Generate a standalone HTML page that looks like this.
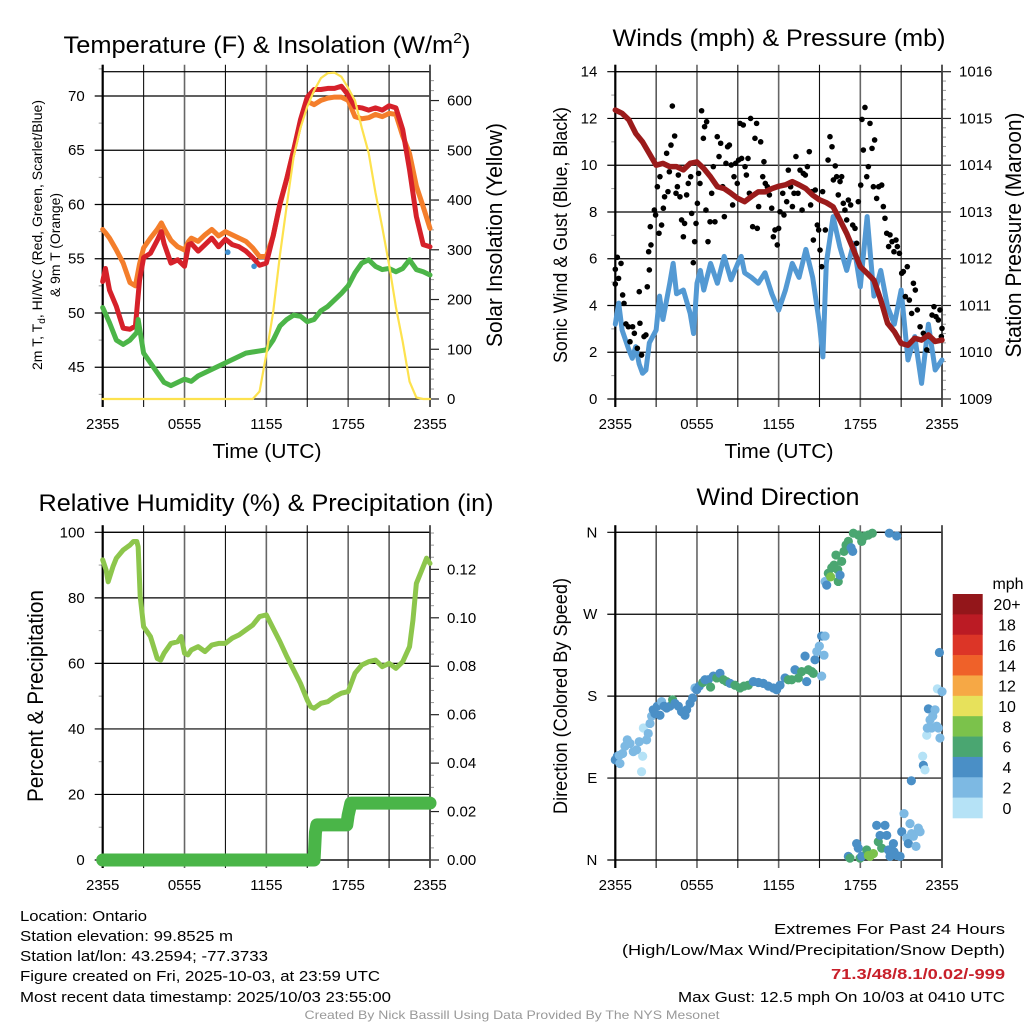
<!DOCTYPE html>
<html><head><meta charset="utf-8"><style>
html,body{margin:0;padding:0;background:#fff;}
svg{display:block;font-family:"Liberation Sans",Arial,sans-serif;}
</style></head><body>
<svg id="chart" width="1024" height="1024" viewBox="0 0 1024 1024" xmlns="http://www.w3.org/2000/svg">
<rect x="0" y="0" width="1024" height="1024" fill="#fff"/>
<g id="layer"></g>
<!-- titles -->
<text x="267" y="53" font-size="24" text-anchor="middle" textLength="407" lengthAdjust="spacingAndGlyphs">Temperature (F) &amp; Insolation (W/m<tspan font-size="15" dy="-10">2</tspan><tspan dy="10">)</tspan></text>
<text x="779" y="46" font-size="24" text-anchor="middle" textLength="333" lengthAdjust="spacingAndGlyphs">Winds (mph) &amp; Pressure (mb)</text>
<text x="266" y="511" font-size="24" text-anchor="middle" textLength="455" lengthAdjust="spacingAndGlyphs">Relative Humidity (%) &amp; Precipitation (in)</text>
<text x="778" y="505" font-size="24" text-anchor="middle" textLength="163" lengthAdjust="spacingAndGlyphs">Wind Direction</text>
<!-- axis titles -->
<text x="267" y="458" font-size="20" text-anchor="middle" textLength="109" lengthAdjust="spacingAndGlyphs">Time (UTC)</text>
<text x="779" y="458" font-size="20" text-anchor="middle" textLength="109" lengthAdjust="spacingAndGlyphs">Time (UTC)</text>
<text x="42" y="235" font-size="14" text-anchor="middle" transform="rotate(-90 42 235)" textLength="270" lengthAdjust="spacingAndGlyphs">2m T, T<tspan font-size="10" dy="3">d</tspan><tspan dy="-3">, HI/WC (Red, Green, Scarlet/Blue)</tspan></text>
<text x="60" y="245" font-size="14" text-anchor="middle" transform="rotate(-90 60 245)" textLength="104" lengthAdjust="spacingAndGlyphs">&amp; 9m T (Orange)</text>
<text x="502" y="235" font-size="22" text-anchor="middle" transform="rotate(-90 502 235)" textLength="224" lengthAdjust="spacingAndGlyphs">Solar Insolation (Yellow)</text>
<text x="567" y="235" font-size="19" text-anchor="middle" transform="rotate(-90 567 235)" textLength="256" lengthAdjust="spacingAndGlyphs">Sonic Wind &amp; Gust (Blue, Black)</text>
<text x="1021" y="235" font-size="22" text-anchor="middle" transform="rotate(-90 1021 235)" textLength="245" lengthAdjust="spacingAndGlyphs">Station Pressure (Maroon)</text>
<text x="43" y="696" font-size="22" text-anchor="middle" transform="rotate(-90 43 696)" textLength="212" lengthAdjust="spacingAndGlyphs">Percent &amp; Precipitation</text>
<text x="567" y="696" font-size="19" text-anchor="middle" transform="rotate(-90 567 696)" textLength="236" lengthAdjust="spacingAndGlyphs">Direction (Colored By Speed)</text>
<text x="1008" y="589" font-size="16" text-anchor="middle">mph</text>
<!-- footer -->
<g font-size="15">
<text x="20" y="921" textLength="127" lengthAdjust="spacingAndGlyphs">Location: Ontario</text>
<text x="20" y="941" textLength="213" lengthAdjust="spacingAndGlyphs">Station elevation: 99.8525 m</text>
<text x="20" y="961" textLength="248" lengthAdjust="spacingAndGlyphs">Station lat/lon: 43.2594; -77.3733</text>
<text x="20" y="981" textLength="360" lengthAdjust="spacingAndGlyphs">Figure created on Fri, 2025-10-03, at 23:59 UTC</text>
<text x="20" y="1002" textLength="371" lengthAdjust="spacingAndGlyphs">Most recent data timestamp: 2025/10/03 23:55:00</text>
<text x="1005" y="934" text-anchor="end" textLength="231" lengthAdjust="spacingAndGlyphs">Extremes For Past 24 Hours</text>
<text x="1005" y="955" text-anchor="end" textLength="383" lengthAdjust="spacingAndGlyphs">(High/Low/Max Wind/Precipitation/Snow Depth)</text>
<text x="1005" y="979" text-anchor="end" font-weight="bold" fill="#c8202a" textLength="174" lengthAdjust="spacingAndGlyphs">71.3/48/8.1/0.02/-999</text>
<text x="1005" y="1002" text-anchor="end" textLength="327" lengthAdjust="spacingAndGlyphs">Max Gust: 12.5 mph On 10/03 at 0410 UTC</text>
</g>
<text x="512" y="1019" font-size="12" fill="#999" text-anchor="middle" textLength="415" lengthAdjust="spacingAndGlyphs">Created By Nick Bassill Using Data Provided By The NYS Mesonet</text>
</svg>
<script>
// ---------- DATA ----------
const hoursHalf = [0,0.5,1,1.5,2,2.5,3,3.5,4,4.5,5,5.5,6,6.5,7,7.5,8,8.5,9,9.5,10,10.5,11,11.5,12,12.5,13,13.5,14,14.5,15,15.5,16,16.5,17,17.5,18,18.5,19,19.5,20,20.5,21,21.5,22,22.5,23,23.5,24];
const tempT = [0,0.2,0.5,1,1.5,2,2.4,2.7,3,3.5,4,4.3,4.5,5,5.5,6,6.3,6.5,7,7.5,8,8.5,9,9.5,10,10.5,11,11.5,12,12.5,13,13.5,14,14.5,15,15.5,16,16.5,17,17.5,18,18.5,19,19.5,20,20.5,21,21.5,22,22.5,23,23.5,24];
const temp2m = [52.9,54.1,52.1,50.6,48.6,48.5,48.8,53.0,55.1,55.5,56.7,57.5,56.4,54.6,54.9,54.3,56.3,56.4,55.7,56.3,56.9,56.1,56.8,56.3,56.1,55.7,55.1,54.4,54.6,57.1,60.1,62.4,65.0,67.8,69.9,70.6,70.6,70.7,70.7,70.9,70.1,69.0,68.9,68.7,68.9,68.7,69.1,68.9,66.9,63.2,58.9,56.3,56.1];
const temp9m = [57.7,57.4,56.9,55.8,54.6,52.8,52.5,54.5,56.0,56.9,57.7,58.3,57.8,56.7,56.1,55.8,56.6,56.9,56.6,57.2,57.7,57.1,57.5,57.2,56.9,56.6,56.0,55.2,55.2,57.1,60.0,62.4,65.0,67.6,69.5,69.2,69.6,69.8,69.9,69.9,69.6,68.1,67.9,68.0,68.3,68.1,68.4,68.3,66.3,64.7,61.7,59.8,57.8];
const dewT = [0,0.5,1,1.5,2,2.5,2.6,3,3.5,4,4.5,5,5.5,6,6.5,7,7.5,8,8.5,9,9.5,10,10.5,11,11.5,12,12.5,13,13.5,14,14.5,15,15.5,16,16.5,17,17.5,18,18.5,19,19.5,20,20.5,21,21.5,22,22.5,23,23.5,24];
const dewPoint = [50.5,49.1,47.5,47.1,47.5,48.2,49.4,46.3,45.4,44.5,43.6,43.3,43.6,43.9,43.7,44.2,44.5,44.8,45.1,45.4,45.7,46.0,46.3,46.4,46.5,46.6,47.5,48.8,49.4,49.8,49.7,49.2,49.4,50.2,50.6,51.2,51.8,52.5,53.7,54.6,54.9,54.3,54.0,54.1,53.8,54.1,54.9,54.0,53.8,53.5];
const solar = [0,0,0,0,0,0,0,0,0,0,0,0,0,0,0,0,0,0,0,0,0,0,0,15,90,175,290,390,487,545,588,620,645,655,656,648,625,600,545,495,415,345,270,185,115,35,3,0,0];
const chillT = [9.17,11.1];
const chillV = [55.6,54.3];

const windT = [0,0.25,0.5,1,1.25,1.5,1.75,2,2.25,2.5,3,3.25,3.5,4,4.25,4.5,5,5.5,5.75,6,6.25,6.5,7,7.5,8,8.5,9,9.25,9.5,10,10.5,11,11.5,12,12.5,13,13.5,14,14.5,15,15.25,15.5,16,16.5,17,17.5,18,18.5,19,19.5,20,20.5,21,21.5,22,22.5,23,23.5,24];
const windV = [3.2,4.1,2.95,2.1,1.74,2.24,1.5,1.1,1.24,2.4,2.95,4.4,3.4,4.95,5.8,4.5,4.66,3.66,2.8,4.95,5.5,4.66,5.8,4.95,6.1,5.1,5.8,6.1,5.4,5.2,4.95,5.4,4.5,3.8,4.66,5.8,5.2,6.4,5.2,3.2,1.8,5.8,7.8,6.5,5.5,6.66,4.8,7.8,4.4,5.5,3.95,3.2,4.66,1.67,2.67,0.67,3.2,1.24,1.67];
const pressure = [1015.18,1015.11,1014.97,1014.68,1014.50,1014.25,1014.00,1014.04,1013.97,1013.97,1013.90,1014.04,1014.07,1013.93,1013.75,1013.54,1013.50,1013.40,1013.29,1013.22,1013.33,1013.43,1013.43,1013.50,1013.55,1013.58,1013.65,1013.58,1013.50,1013.36,1013.26,1013.20,1013.11,1012.83,1012.54,1012.19,1011.83,1011.69,1011.54,1011.12,1010.62,1010.44,1010.19,1010.15,1010.30,1010.26,1010.37,1010.23,1010.26];
const gustT = [0,0,0.15,0.24,0.42,0.54,0.64,0.78,0.96,1.08,1.27,1.4,1.62,1.81,1.76,1.93,2.11,2.25,2.35,2.5,2.45,2.62,2.57,2.87,2.96,3.09,3.21,3.28,3.4,3.53,3.62,3.77,3.87,3.97,4.09,4.19,4.36,4.46,4.56,4.63,4.75,4.87,5.0,5.09,5.24,5.36,5.54,5.61,5.73,5.83,5.93,6.03,6.12,6.22,6.34,6.47,6.56,6.71,6.66,6.81,6.96,7.08,7.2,7.32,7.49,7.62,7.74,7.89,8.01,8.13,8.25,8.38,8.52,8.62,8.72,8.84,8.96,9.06,9.16,9.28,9.4,9.53,9.63,9.75,9.85,9.94,10.09,10.26,10.38,10.43,10.53,10.68,10.83,10.92,11.02,11.17,11.32,11.49,11.61,11.73,11.9,12.0,12.1,12.3,12.39,12.59,12.71,12.88,13.01,13.13,13.27,13.42,13.57,13.72,13.81,13.96,14.11,14.25,14.35,14.45,14.55,14.69,14.84,14.94,15.04,15.16,15.23,15.43,15.63,15.77,15.92,16.02,16.16,16.26,16.38,16.51,16.63,16.75,16.87,17.0,17.12,17.29,17.44,17.61,17.73,17.85,18.03,18.12,18.22,18.34,18.47,18.59,18.71,18.86,19.05,18.96,19.2,19.35,19.57,19.69,19.81,19.94,20.08,20.18,20.33,20.47,20.62,20.72,20.87,21.04,21.16,21.31,21.45,21.6,21.77,21.9,22.04,22.19,22.39,22.63,22.88,23.07,23.27,23.41,23.56,23.73,23.85,23.95,24];
const gustV = [4.92,5.55,6.06,5.16,5.8,4.45,4.09,3.21,3.09,2.45,3.09,2.81,2.17,3.24,4.59,1.88,2.67,2.74,4.8,5.52,6.3,6.59,7.37,8.08,7.87,9.08,7.09,9.51,7.44,8.16,8.65,10.51,8.87,9.72,10.86,12.53,11.25,8.8,9.08,9.58,8.65,7.66,6.94,7.51,8.73,9.22,9.51,7.94,5.83,6.73,7.51,8.37,9.65,9.22,12.33,11.15,11.65,11.86,8.08,6.73,7.58,8.8,9.94,7.58,11.22,10.37,10.94,9.08,7.8,10.08,10.79,10.86,10.01,8.3,9.51,10.08,9.22,10.22,11.79,10.29,11.72,9.94,9.58,10.29,8.8,12.0,7.37,11.15,11.79,7.3,8.23,11.0,9.51,10.15,9.22,9.08,8.73,8.16,6.94,7.23,6.59,7.3,8.01,8.8,7.87,8.44,9.79,9.08,8.23,8.8,10.37,8.8,9.79,8.08,9.65,9.58,9.94,10.58,8.3,8.87,6.8,8.94,7.44,7.23,6.37,5.66,8.87,7.23,10.22,11.22,10.79,9.37,9.97,9.51,8.73,9.3,9.51,8.37,8.08,7.66,8.51,8.3,7.44,7.3,6.66,8.44,9.15,11.96,10.65,12.47,9.51,9.94,11.79,10.72,11.08,9.08,8.58,9.08,9.15,8.23,7.73,7.09,6.52,7.02,6.73,6.3,6.8,6.52,6.23,5.38,5.45,4.38,5.66,4.23,3.66,4.95,4.66,3.81,3.09,2.81,2.1,2.67,3.59,3.95,3.52,3.38,3.81,2.67,3.02];

const rhT = [0,0.25,0.4,0.75,1,1.5,2,2.25,2.5,2.6,2.75,3,3.5,4,4.25,4.5,5,5.5,5.75,6,6.25,6.5,7,7.5,8,8.5,9,9.5,10,10.5,11,11.5,12,12.5,13,13.5,14,14.5,15,15.25,15.5,16,16.5,17,17.5,18,18.5,19,19.5,20,20.5,21,21.5,22,22.5,22.75,23,23.5,23.75,24];
const rhV = [91.6,88.5,84.9,89.5,92.1,94.6,96.1,97.2,97.2,95.6,80.4,71.2,68.2,61.5,61.0,63.1,66.1,66.6,68.2,63.1,62.6,64.1,65.1,63.6,65.6,66.1,66.1,67.7,68.7,70.2,71.7,74.3,74.8,70.7,66.6,62.1,58.0,53.9,48.8,46.8,46.3,47.8,48.3,49.8,50.9,51.4,57.0,59.5,60.5,61.0,59.0,60.0,58.5,60.5,65.1,73.2,84.4,89.5,92.1,90.5];
const precipT = [0,15.5,15.6,15.7,17.9,18.0,18.2,24];
const precipV = [0,0,0.0113,0.0145,0.0145,0.0185,0.0235,0.0235];

const dirT = [0.0,0.15,0.34,0.29,0.54,0.71,0.88,1.08,1.32,1.57,1.76,1.93,2.01,2.06,2.3,2.42,2.55,2.67,2.79,2.91,3.09,3.28,3.4,3.58,3.77,4.02,4.21,4.38,4.63,4.87,5.12,5.24,5.49,5.68,5.85,5.98,6.17,6.42,6.59,6.83,7.0,7.2,7.45,7.69,7.94,8.18,8.43,8.79,9.16,9.45,9.77,10.14,10.51,10.87,11.24,11.61,11.85,12.1,12.47,12.71,12.96,13.2,13.45,13.69,13.94,14.06,14.18,14.43,14.55,14.67,14.8,14.99,15.16,15.16,15.41,15.33,15.41,15.53,15.65,15.82,15.9,16.07,16.21,16.34,16.38,16.51,16.63,16.8,16.95,17.12,17.32,17.44,17.49,17.85,18.1,18.34,18.59,18.88,20.13,20.67,17.12,17.24,17.73,17.85,17.98,18.1,18.47,18.59,18.71,18.96,19.2,19.32,19.45,19.57,19.81,19.94,20.06,20.18,20.43,20.47,20.67,20.92,21.04,21.21,21.41,21.53,21.65,21.77,21.9,22.09,22.26,22.39,21.75,22.58,22.63,22.75,22.88,22.92,23.0,23.12,23.24,23.32,23.49,23.61,23.73,23.85,23.66,23.81,24.0];
const dirDeg = [110,114,106,115,117,125,132,128,119,121,130,97,114,145,132,139,150,158,165,161,169,159,174,169,167,169,176,172,169,163,159,165,172,178,189,187,191,195,198,198,190,202,200,205,198,196,194,192,189,191,192,196,195,194,191,189,187,192,200,198,198,209,200,207,224,196,209,207,205,220,229,235,202,246,246,225,306,302,315,311,321,324,335,319,306,313,328,339,346,350,343,339,359,357,350,356,357,359,359,356,4,2,18,13,2,4,11,5,4,7,38,20,27,13,38,27,11,4,18,9,5,4,31,51,24,18,40,29,26,15,35,31,87,114,104,99,137,145,166,154,145,158,165,147,145,134,188,228,185];
const dirSpeed = [4,4,3,3,3,3,3,3,3,3,3,1,1,1,2,3,3,3,4,4,4,4,3,4,4,4,6,4,4,4,4,4,4,4,3,4,4,6,4,4,6,4,6,4,6,6,4,6,6,6,6,4,4,4,4,4,4,4,4,6,6,4,6,6,4,4,6,6,6,4,3,3,3,4,3,3,3,4,6,8,6,6,6,6,6,4,6,6,6,6,4,4,6,6,6,6,6,6,4,4,4,6,4,4,6,4,6,8,8,8,4,6,4,6,4,4,4,4,4,4,4,4,4,3,3,4,2,3,3,3,3,3,4,1,4,1,1,3,4,3,3,3,3,3,3,2,1,4,3];
const speedBins = [0,2,4,6,8,10,12,14,16,18,20];
const speedLabels = ["0","2","4","6","8","10","12","14","16","18","20+"];
const speedColors = ["#b5e2f6","#7db9e3","#4a8fc6","#4aa671","#7bc24b","#e7e15b","#f6a845","#ef6129","#dc3527","#bb1b24","#93161a"];
const tempTicks = [45,50,55,60,65,70];
const solarTicks = [0,100,200,300,400,500,600];
const windTicks = [0,2,4,6,8,10,12,14];
const presTicks = [1009,1010,1011,1012,1013,1014,1015,1016];
const rhTicks = [0,20,40,60,80,100];
const precipTicks = [0,0.02,0.04,0.06,0.08,0.10,0.12];
const dirTicks = [0,90,180,270,360];
const dirLabels = ["N","E","S","W","N"];
const timeTicks = [0,6,12,18,24];
const timeLabels = ["2355","0555","1155","1755","2355"];

// ---------- RENDER ----------
const NS = "http://www.w3.org/2000/svg";
const layer = document.getElementById('layer');
function mk(tag, attrs, parent){const e=document.createElementNS(NS,tag);for(const k in attrs)e.setAttribute(k,attrs[k]);(parent||layer).appendChild(e);return e;}
function lin(d0,d1,r0,r1){return v=>r0+(v-d0)/(d1-d0)*(r1-r0);}
function pathD(xs,ys,xf,yf){return xs.map((t,i)=>(i?'L':'M')+xf(t).toFixed(2)+','+yf(ys[i]).toFixed(2)).join('');}

function panel(name,x0,x1,yT,yB,leftTicks,leftLab,lf,leftMinor,rightTicks,rightLab,rf,rightMinor){
  const g=mk('g',{});
  
  
  const xf=lin(0,24,x0,x1);
  leftTicks.forEach(v=>{const y=lf(v);
    const l=mk('line',{x1:x0-8,x2:x1,y1:y,y2:y,stroke:'#000','stroke-width':1.2},g);
    
    
  });
  leftMinor.forEach(v=>{const y=lf(v);
    const l=mk('line',{x1:x0-4,x2:x0,y1:y,y2:y,stroke:'#999','stroke-width':1},g);
    
    
  });
  for(let h=0;h<=24;h+=3){const x=xf(h);
    const major=(h%6===0);
    const l=mk('line',{x1:x,x2:x,y1:yT-7,y2:yB+8,stroke:major?'#666':'#111','stroke-width':major?1.6:1.1},g);
    
    
  }
  if(rightTicks){
    rightTicks.forEach(v=>{const y=rf(v);
      const l=mk('line',{x1:x1,x2:x1+9,y1:y,y2:y,stroke:'#222','stroke-width':1.2},g);
      
      
      const t=mk('text',{x:x1+17,y:y+5,'font-size':15},g);t.textContent=rightLab(v);
      
      
    });
    rightMinor.forEach(v=>{const y=rf(v);
      const l=mk('line',{x1:x1,x2:x1+4,y1:y,y2:y,stroke:'#999','stroke-width':1},g);
      
      
    });
  }
  const fr=mk('rect',{x:x0,y:yT,width:x1-x0,height:yB-yT,fill:'none',stroke:'#000','stroke-width':1.2},g);
  
  
  const la=mk('line',{x1:x0,x2:x0,y1:yT-7,y2:yB+8,stroke:'#000','stroke-width':2.2},g);
  
  
  const ra=mk('line',{x1:x1,x2:x1,y1:yT-7,y2:yB+8,stroke:'#444','stroke-width':1.6},g);
  
  
  leftTicks.forEach(v=>{const y=lf(v);
    const t=mk('text',{x:x0-18,y:y+5,'font-size':15,'text-anchor':'end'},g);t.textContent=leftLab(v);
    
    
  });
  timeTicks.forEach((h,i)=>{
    const t=mk('text',{x:xf(h),y:yB+30,'font-size':15,'text-anchor':'middle'},g);t.textContent=timeLabels[i];
    
    
  });
  return xf;
}
function range(a,b,s){const r=[];for(let v=a;v<=b+1e-9;v+=s)r.push(+v.toFixed(4));return r;}
function line(xs,ys,xf,yf,color,w,name){
  const p=mk('path',{d:pathD(xs,ys,xf,yf),fill:'none',stroke:color,'stroke-width':w,'stroke-linejoin':'round','stroke-linecap':'round'});
  
  
  return p;
}

// Panel 1
const yL1=lin(42.07,72.24,399,71.7), yR1=lin(0,658,399,71.7);
const x1f=panel('temperature',102.7,430,71.7,399,tempTicks,v=>String(v),yL1,range(42.5,72.5,2.5).filter(v=>v%5!==0),solarTicks,v=>String(v),yR1,range(0,640,20).filter(v=>v%100!==0));
line(tempT,temp9m,x1f,yL1,'#f47e2b',5,'temp-9m-line');
line(tempT,temp2m,x1f,yL1,'#d6212a',5,'temp-2m-line');
line(dewT,dewPoint,x1f,yL1,'#4cb548',5,'dewpoint-line');
line(hoursHalf,solar,x1f,yR1,'#fde24e',2.2,'solar-line');
chillT.forEach((t,i)=>{const c=mk('circle',{cx:x1f(t),cy:yL1(chillV[i]),r:2.8,fill:'#3f8fd0'});
  
  });

// Panel 2
const yL2=lin(0,14,399,71.7), yR2=lin(1009,1016,399,71.7);
const x2f=panel('winds',615.3,942,71.7,399,windTicks,v=>String(v),yL2,range(1,13,2),presTicks,v=>String(v),yR2,range(1009.2,1015.8,0.2).filter(v=>Math.abs(v-Math.round(v))>0.01));
line(windT,windV,x2f,yL2,'#5399d3',5,'sonic-wind-line');
gustT.forEach((t,i)=>{const c=mk('circle',{cx:x2f(t),cy:yL2(gustV[i]),r:2.8,fill:'#000'});
  
  });
line(hoursHalf,pressure,x2f,yR2,'#9b1b1b',5.5,'pressure-line');

// Panel 3
const yL3=lin(0,100,860,532.3), yR3=lin(0,0.1353,860,532.3);
const x3f=panel('humidity',102.7,430,532.3,860,rhTicks,v=>String(v),yL3,range(10,90,20),precipTicks,v=>v.toFixed(2),yR3,range(0.005,0.135,0.005).filter(v=>Math.abs(v/0.02-Math.round(v/0.02))>0.01));
line(rhT,rhV,x3f,yL3,'#8dc64c',5,'humidity-line');
line(precipT,precipV,x3f,yR3,'#4ab548',13,'precipitation-line');

// Panel 4
const y4=lin(0,360,860,532.3);
const x4f=panel('direction',615.3,942,532.3,860,dirTicks,v=>dirLabels[dirTicks.indexOf(v)],y4,[],null,null,null,null);
function speedColor(s){let k=0;for(let i=0;i<speedBins.length;i++)if(s>=speedBins[i])k=i;return speedColors[k];}
dirT.forEach((t,i)=>{const c=mk('circle',{cx:x4f(t),cy:y4(dirDeg[i]),r:4.6,fill:speedColor(dirSpeed[i])});
  
  });
const cbTop=594, cbH=224/speedColors.length;
for(let i=0;i<speedColors.length;i++){
  const k=speedColors.length-1-i;
  const r=mk('rect',{x:952.7,y:cbTop+i*cbH,width:30,height:cbH+0.3,fill:speedColors[k]});
  
  
  const t=mk('text',{x:1007,y:cbTop+i*cbH+cbH/2+6,'font-size':16,'text-anchor':'middle'});t.textContent=speedLabels[k];
  
  
}
</script>
</body></html>
